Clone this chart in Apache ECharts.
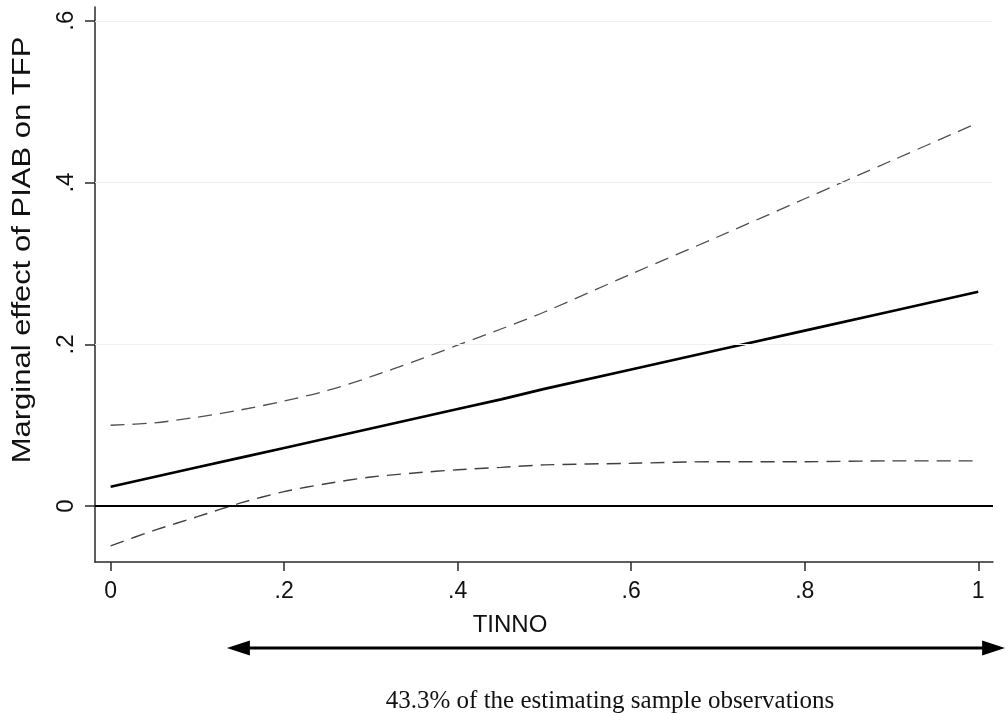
<!DOCTYPE html>
<html>
<head>
<meta charset="utf-8">
<script src="https://cdn.jsdelivr.net/npm/echarts@6/dist/echarts.min.js"></script>
<style>
  html, body { margin: 0; padding: 0; background: #fff; }
  #chart { width: 1005px; height: 713px; }
</style>
</head>
<body>
<div id="chart"></div>
<script>
// ---- data ----
const tinno = [0, 0.05, 0.1, 0.15, 0.2, 0.25, 0.3, 0.35, 0.4, 0.45, 0.5, 0.6, 0.7, 0.8, 0.9, 1.0];
const marginalEffect = [0.024, 0.036, 0.048, 0.060, 0.072, 0.084, 0.096, 0.108, 0.120, 0.132, 0.145, 0.169, 0.193, 0.217, 0.241, 0.265];
const upperCI = [0.100, 0.103, 0.110, 0.119, 0.130, 0.143, 0.160, 0.179, 0.199, 0.219, 0.240, 0.287, 0.333, 0.380, 0.427, 0.474];
const lowerCI = [-0.049, -0.030, -0.013, 0.004, 0.018, 0.028, 0.036, 0.041, 0.045, 0.048, 0.051, 0.053, 0.055, 0.055, 0.056, 0.056];

const xTickValues = [0, 0.2, 0.4, 0.6, 0.8, 1];
const xTickLabels = ['0', '.2', '.4', '.6', '.8', '1'];
const yTickValues = [0, 0.2, 0.4, 0.6];
const yTickLabels = ['0', '.2', '.4', '.6'];
const gridLineValues = [0.2, 0.4, 0.6];

const xTitle = 'TINNO';
const yTitle = 'Marginal effect of PIAB on TFP';
const noteText = '43.3% of the estimating sample observations';
const arrowRange = [0.134, 1.031];

// ---- build ----
const pairs = (ys) => tinno.map((x, i) => [x, ys[i]]);
const xLabelMap = {}; xTickValues.forEach((v, i) => xLabelMap[v.toFixed(3)] = xTickLabels[i]);
const yLabelMap = {}; yTickValues.forEach((v, i) => yLabelMap[v.toFixed(3)] = yTickLabels[i]);

const chart = echarts.init(document.getElementById('chart'), null, { renderer: 'canvas' });
const axisColor = '#2a2a2a';
const font = '"Liberation Sans", Arial, sans-serif';

const option = {
  animation: false,
  backgroundColor: '#ffffff',
  grid: { left: 95, right: 12, top: 7, bottom: 151, containLabel: false },
  xAxis: {
    type: 'value', min: -0.018, max: 1.017,
    axisLine: { show: true, onZero: false, lineStyle: { color: axisColor, width: 1.5 } },
    axisTick: { show: true, length: 9, customValues: xTickValues, lineStyle: { color: axisColor, width: 1.5 } },
    axisLabel: { customValues: xTickValues, margin: 18, fontSize: 23, fontFamily: font, color: '#111',
      formatter: v => xLabelMap[v.toFixed(3)] ?? '' },
    splitLine: { show: false }
  },
  yAxis: {
    type: 'value', min: -0.069, max: 0.617,
    axisLine: { show: true, onZero: false, lineStyle: { color: axisColor, width: 1.5 } },
    axisTick: { show: true, length: 10, customValues: yTickValues, lineStyle: { color: axisColor, width: 1.5 } },
    axisLabel: { customValues: yTickValues, rotate: 90, margin: 17, fontSize: 24, fontFamily: font, color: '#111',
      formatter: v => yLabelMap[v.toFixed(3)] ?? '' },
    splitLine: { show: false }
  },
  series: [
    {
      name: 'upper', type: 'line', data: pairs(upperCI), showSymbol: false, symbol: 'none', smooth: 0.3,
      lineStyle: { color: '#505050', width: 1.3, type: [14, 8] }, z: 3
    },
    {
      name: 'lower', type: 'line', data: pairs(lowerCI), showSymbol: false, symbol: 'none', smooth: 0.3,
      lineStyle: { color: '#404040', width: 1.4, type: [14, 8] }, z: 3
    },
    {
      name: 'effect', type: 'line', data: pairs(marginalEffect), showSymbol: false, symbol: 'none',
      lineStyle: { color: '#000', width: 2.6 }, z: 4,
      markLine: {
        silent: true, symbol: 'none', label: { show: false },
        data: gridLineValues.map(v => ({ yAxis: v, lineStyle: { color: '#f1f1f1', width: 1, type: 'solid' } }))
          .concat([{ yAxis: 0, lineStyle: { color: '#000', width: 2.2, type: 'solid' } }])
      }
    }
  ]
};
chart.setOption(option);

const xa = chart.convertToPixel({ xAxisIndex: 0 }, arrowRange[0]);
const xb = chart.convertToPixel({ xAxisIndex: 0 }, arrowRange[1]);
const ay = 648, headL = 23, headH = 7.5;
chart.setOption({
  graphic: [
    { type: 'text', x: 510, y: 625, style: { text: xTitle, fontSize: 24, fontFamily: font, fill: '#111', textAlign: 'center', textVerticalAlign: 'middle' } },
    { type: 'text', x: 23, y: 250, rotation: Math.PI / 2, scaleX: 1.24, style: { text: yTitle, fontSize: 25, fontFamily: font, fill: '#111', textAlign: 'center', textVerticalAlign: 'middle' } },
    { type: 'line', shape: { x1: xa + 10, y1: ay, x2: xb - 10, y2: ay }, style: { stroke: '#000', lineWidth: 3 } },
    { type: 'polygon', shape: { points: [[xa, ay], [xa + headL, ay - headH], [xa + headL, ay + headH]] }, style: { fill: '#000' } },
    { type: 'polygon', shape: { points: [[xb, ay], [xb - headL, ay - headH], [xb - headL, ay + headH]] }, style: { fill: '#000' } },
    { type: 'text', x: 610, y: 714, style: { text: noteText, fontSize: 25, fontFamily: '"Liberation Serif", "Times New Roman", serif', fill: '#111', textAlign: 'center', textVerticalAlign: 'bottom' } }
  ]
});
</script>
</body>
</html>
